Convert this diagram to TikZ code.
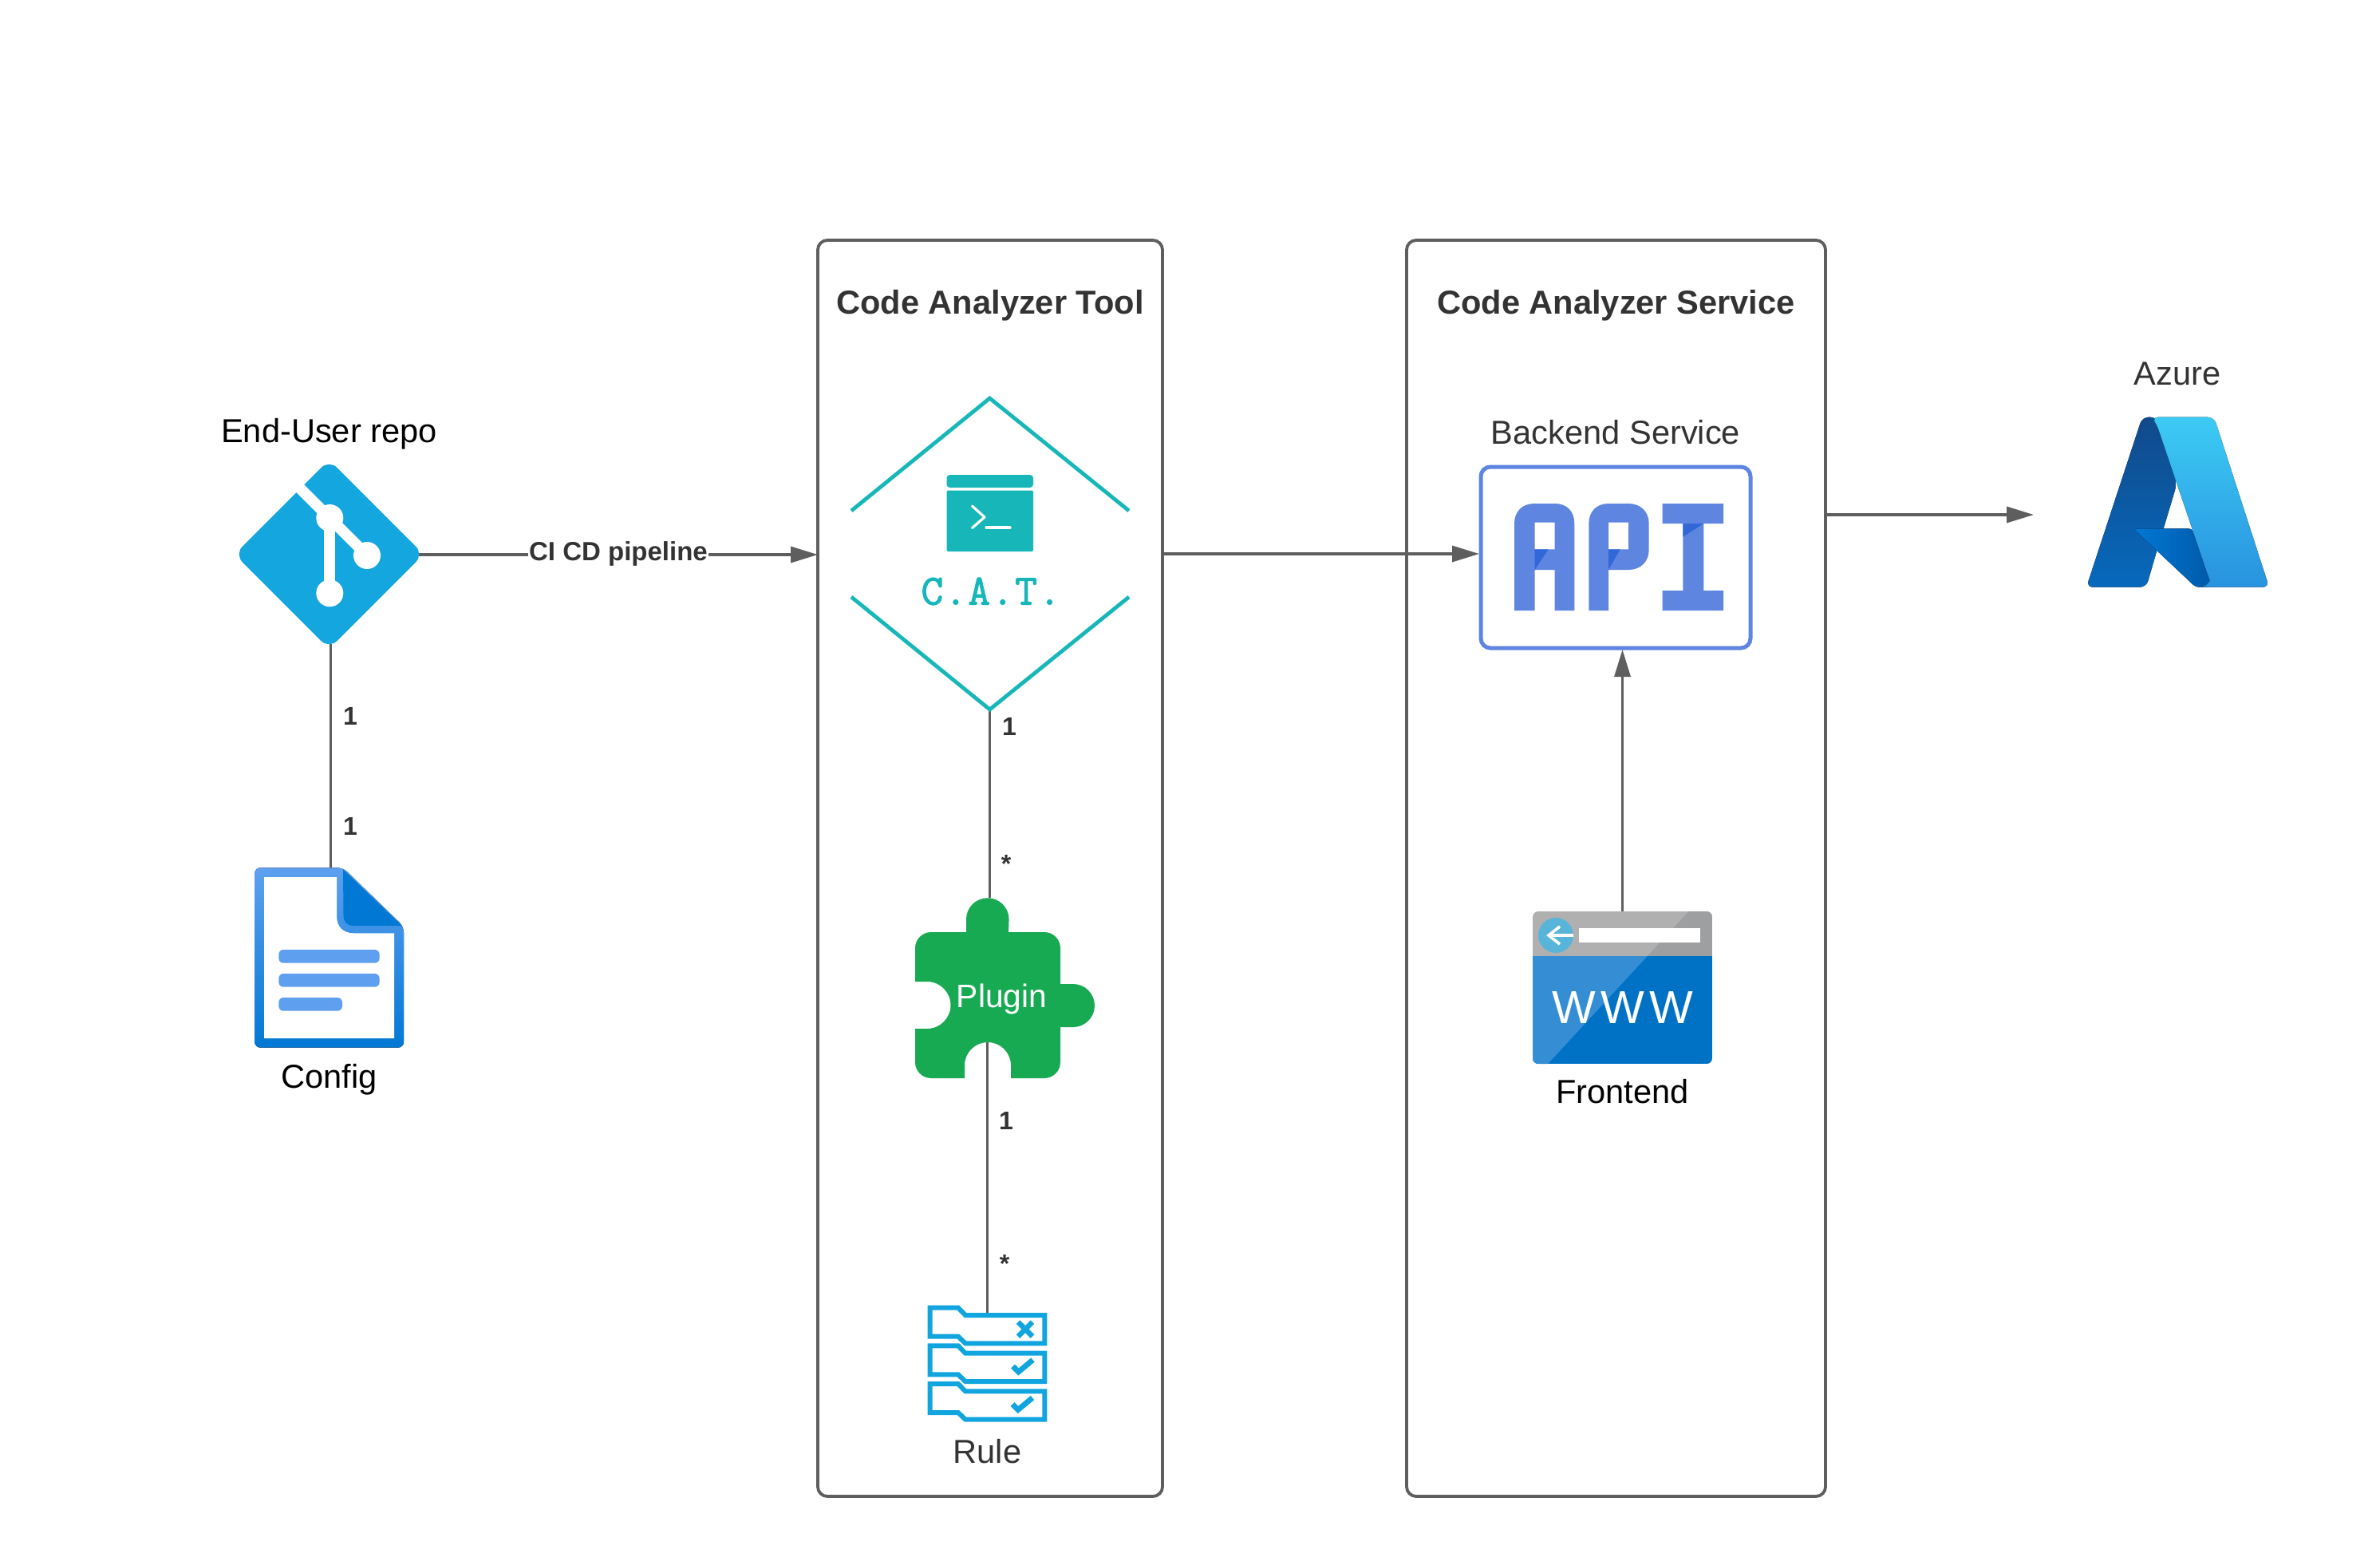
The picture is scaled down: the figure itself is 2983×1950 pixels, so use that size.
\documentclass[tikz,border=0pt]{standalone}
\usepackage{fontspec}
\usepackage{xcolor}
\usetikzlibrary{arrows.meta}
\setmainfont{Liberation Sans}
\newfontfamily\wwwfont[LetterSpace=11]{Liberation Sans}
\newfontfamily\catfont[FakeBold=2,LetterSpace=3]{Latin Modern Mono}
\definecolor{linegray}{RGB}{94,94,94}
\definecolor{inkgray}{RGB}{51,51,51}
\definecolor{gitblue}{RGB}{19,166,223}
\definecolor{catteal}{RGB}{23,183,185}
\definecolor{plugingreen}{RGB}{24,170,83}
\definecolor{ruleblue}{RGB}{17,165,224}
\definecolor{apiblue}{RGB}{94,134,224}
\definecolor{apidark}{RGB}{49,104,216}
\definecolor{docblue}{RGB}{94,160,239}
\definecolor{msblue}{RGB}{0,120,212}
\definecolor{webblue}{RGB}{0,114,198}
\definecolor{weblight}{RGB}{53,142,212}
\definecolor{webgray}{RGB}{176,176,176}
\definecolor{webdark}{RGB}{157,159,161}
\definecolor{webcircle}{RGB}{89,180,217}
\definecolor{azuretop}{RGB}{17,74,139}
\definecolor{azurelow}{RGB}{6,105,188}
\definecolor{azuremid}{RGB}{0,90,170}
\definecolor{azuresky}{RGB}{60,203,244}
\definecolor{azuresea}{RGB}{40,146,223}

\begin{document}
\begin{tikzpicture}[x=0.5pt, y=-0.5pt, node distance=76pt]
    \tikzstyle{panel} = [draw=linegray, line width=1.9pt, rounded corners=6pt, minimum height=787pt, inner sep=0pt, outer sep=0pt]
    \tikzstyle{iconspot} = [inner sep=0pt, outer sep=0pt]
    \tikzstyle{caption} = [font=\fontsize{20.8}{25}\selectfont, text=inkgray, text height=15pt, text depth=4.5pt, inner sep=0pt]
    \tikzstyle{paneltitle} = [caption, font=\fontsize{20.8}{25}\selectfont\bfseries]
    \tikzstyle{count} = [font=\fontsize{16}{19}\selectfont\bfseries, text=inkgray, inner sep=0pt]
    \tikzstyle{flow} = [draw=linegray, line width=1.7pt, -{Triangle[length=17pt, width=10pt]}]
    \tikzstyle{link} = [draw=linegray, line width=1.7pt]
    \tikzstyle{catline} = [draw=catteal, line width=2.4pt]
    \tikzstyle{ruleline} = [draw=ruleblue, line width=3pt]

    \useasboundingbox (0,0) rectangle (2983,1950);

    % Panels
    \node [panel, minimum width=216pt] (toolbox) at (1241,1088) {};
    \node [panel, minimum width=262.5pt] (servicebox) at (2025.5,1088) {};
    \node [paneltitle, above of=toolbox, node distance=352.75pt, text=inkgray] (tooltitle) {Code Analyzer Tool};
    \node [paneltitle, above of=servicebox, node distance=352.75pt, text=inkgray] (servicetitle) {Code Analyzer Service};

    % Icon places
    \node [iconspot, minimum width=110.5pt, minimum height=112pt] (gitrepo) at (414.5,695) {};
    \node [iconspot, minimum width=93.5pt, minimum height=112.7pt] (config) at (414.5,1200) {};
    \node [iconspot, minimum width=174pt, minimum height=195pt] (cat) at (1240.5,694) {};
    \node [iconspot, minimum width=112pt, minimum height=90.5pt] (plugin) at (1240.5,1215.5) {};
    \node [iconspot, minimum width=75pt, minimum height=68.5pt] (rule) at (1237.5,1713.5) {};
    \node [iconspot, minimum width=171pt, minimum height=115.5pt] (api) at (2025,698.5) {};
    \node [iconspot, minimum width=112.5pt, minimum height=95.5pt] (frontend) at (2033.5,1237.5) {};
    \node [iconspot, minimum width=115pt, minimum height=106.5pt] (azure) at (2729,629) {};
    \coordinate (pluginnotch) at (1237.5,1306);
    \coordinate (azureentry) at (2549,645);

    % Connectors
    \draw [flow] (gitrepo.east) -- node [font=\fontsize{16.5}{20}\selectfont\bfseries, text=inkgray, fill=white, inner sep=0.5pt, yshift=0.5pt] (pipeline) {CI CD pipeline} (gitrepo.east -| toolbox.west);
    \draw [link] (gitrepo.south) -- (config.north);
    \draw [link] (cat.south) -- (plugin.north);
    \draw [link] (pluginnotch) -- (rule.north);
    \draw [flow] (toolbox.east |- cat.east) -- (cat.east -| api.west);
    \draw [flow] (frontend.north) -- (frontend.north |- api.south);
    \draw [flow] (azureentry -| servicebox.east) -- (azureentry);

    % Git icon
    \fill [gitblue, rounded corners=7pt] (412.5,576) -- (531,694.5) -- (412.5,813) -- (294,694.5) -- cycle;
    \draw [white, line width=6.9pt] (366,602) -- (413.3,649) -- (460,696);
    \draw [white, line width=7pt] (413.3,649) -- (413.3,743.3);
    \foreach \spotx/\spoty in {413.3/649, 460/696, 413.3/743.3}
        \fill [white] (\spotx,\spoty) circle [radius=8.5pt];

    % Config icon
    \fill [top color=docblue, bottom color=msblue, rounded corners=3.5pt] (319.3,1087.3) -- (430,1087.3) -- (506,1161) -- (506,1312.7) -- (319.3,1312.7) -- cycle;
    \fill [white] (331,1099) -- (422,1099) -- (422,1148) .. controls (422,1161) and (430,1169.3) .. (443,1169.3) -- (494,1169.3) -- (494,1301) -- (331,1301) -- cycle;
    \fill [msblue] (430,1089.3) -- (503.5,1160) -- (443,1160) .. controls (435,1160) and (430.5,1155) .. (430.5,1147) -- cycle;
    \fill [docblue, rounded corners=3pt] (349.3,1190) rectangle (475.7,1206.7);
    \fill [docblue, rounded corners=3pt] (349.3,1220) rectangle (475.7,1236.7);
    \fill [docblue, rounded corners=3pt] (349.3,1250) rectangle (429,1266.7);

    % CAT icon
    \draw [catline] (1067,640) -- (cat.north) -- (1415,640);
    \draw [catline] (1067,748) -- (cat.south) -- (1415,748);
    \fill [catteal, rounded corners=2pt] (1186.5,595) -- (1295,595) -- (1295,611) -- (1186.5,611) -- cycle;
    \fill [catteal, rounded corners=1pt] (1186.5,614.5) rectangle (1295,691);
    \draw [white, line width=1.6pt, line cap=round, line join=round] (1218.5,634) -- (1234,648) -- (1218.5,661.5);
    \draw [white, line width=1.6pt, line cap=round] (1236,661) -- (1266,661);
    \node [iconspot, font=\catfont\fontsize{27}{30}\selectfont, text=catteal] (catlabel) at (1242,741) {C.A.T.};

    % Plugin icon
    \fill [plugingreen] (1167,1168) -- (1211,1168) -- (1211,1152) arc [start angle=180, end angle=0, radius=13.4pt] -- (1264,1168) -- (1309,1168) arc [start angle=90, end angle=0, radius=10pt] -- (1329,1233) -- (1345,1233) arc [start angle=90, end angle=-90, radius=13.5pt] -- (1329,1287) -- (1329,1331) arc [start angle=0, end angle=-90, radius=10pt] -- (1267,1351) -- (1267,1335) arc [start angle=0, end angle=180, radius=14.5pt] -- (1209,1351) -- (1167,1351) arc [start angle=270, end angle=180, radius=10pt] -- (1147,1289) -- (1162,1289) arc [start angle=-90, end angle=90, radius=14.75pt] -- (1147,1230) -- (1147,1188) arc [start angle=180, end angle=90, radius=10pt] -- cycle;
    \node [iconspot, font=\fontsize{20.4}{24}\selectfont, text=white] (pluginlabel) at (1255.5,1252) {Plugin};

    % Rule icon
    \foreach \bandy in {0,47.7,95.4}
        \draw [ruleline, shift={(0,\bandy)}] (1165.7,1638.7) -- (1201,1638.7) -- (1210,1648) -- (1309.3,1648) -- (1309.3,1683.3) -- (1210,1683.3) -- (1201,1674.7) -- (1165.7,1674.7) -- cycle;
    \draw [draw=ruleblue, line width=3.2pt] (1276,1656.5) -- (1294,1674.5) (1294,1656.5) -- (1276,1674.5);
    \draw [draw=ruleblue, line width=3.4pt] (1269.5,1712) -- (1276.5,1719) -- (1294.5,1704);
    \draw [draw=ruleblue, line width=3.4pt] (1269,1759.5) -- (1276,1766.5) -- (1294,1751.5);

    % API icon
    \draw [draw=apiblue, line width=2.5pt, rounded corners=6pt] (1856,585) rectangle (2194,812);
    \fill [apiblue, even odd rule] (1898,765) -- (1898,656) .. controls (1898,641) and (1908,631) .. (1923,631) -- (1949,631) .. controls (1964,631) and (1973.3,641) .. (1973.3,656) -- (1973.3,765) -- (1948.7,765) -- (1948.7,714) -- (1923.7,714) -- (1923.7,765) -- cycle (1923.7,654.7) rectangle (1948.7,688.3);
    \fill [apiblue, even odd rule] (1991.3,765) -- (1991.3,656) .. controls (1991.3,641) and (2001,631) .. (2016,631) -- (2041,631) .. controls (2056,631) and (2066.7,641) .. (2066.7,656) -- (2066.7,689) .. controls (2066.7,704) and (2056,714) .. (2041,714) -- (2016,714) -- (2016,765) -- cycle (2016,654.7) rectangle (2041,688.3);
    \fill [apiblue] (2083.7,631) -- (2160,631) -- (2160,656) -- (2135.3,656) -- (2135.3,740) -- (2160,740) -- (2160,765) -- (2083.7,765) -- (2083.7,740) -- (2109.3,740) -- (2109.3,656) -- (2083.7,656) -- cycle;
    \fill [apidark] (1923.7,688.3) -- (1940.7,688.3) -- (1923.7,714) -- cycle;
    \fill [apidark] (2016,688.3) -- (2030.7,688.3) -- (2016,714) -- cycle;
    \fill [apidark] (2109.3,656) -- (2135.3,656) -- (2109.3,672.7) -- cycle;

    % Frontend icon
    \begin{scope}
        \clip [rounded corners=3.5pt] (1921,1142) rectangle (2146,1333);
        \fill [webgray] (1921,1142) rectangle (2146,1198);
        \fill [webdark] (2116.7,1142) -- (2146,1142) -- (2146,1198) -- (2064.8,1198) -- cycle;
        \fill [webblue] (1921,1198) rectangle (2146,1333);
        \fill [weblight] (1921,1198) -- (2064.8,1198) -- (1940,1333) -- (1921,1333) -- cycle;
    \end{scope}
    \fill [webcircle] (1950,1172) circle [radius=11pt];
    \fill [white] (1979,1163) rectangle (2131,1181);
    \draw [white, line width=1.8pt] (1972,1172) -- (1941,1172);
    \draw [white, line width=1.8pt] (1955,1161) -- (1941,1172) -- (1955,1183);
    \node [iconspot, font=\wwwfont\fontsize{29}{32}\selectfont, text=white] (webtext) at (2034,1263) {WWW};

    % Azure icon
    \fill [top color=azuretop, bottom color=azurelow, rounded corners=4pt] (2685,522.7) -- (2703,522.7) -- (2728.3,606.7) -- (2703.3,690) -- (2690,735.7) -- (2615,735.7) -- cycle;
    \fill [left color=msblue, right color=azuremid, rounded corners=2pt] (2674,662.3) -- (2747.3,662.3) -- (2770,723.3) -- (2770,735.7) -- (2752,735.7) -- (2703.3,690) -- cycle;
    \fill [top color=azuresky, bottom color=azuresea, rounded corners=4pt] (2696.7,522.7) -- (2775,522.7) -- (2844,735.7) -- (2756,735.7) .. controls (2766,733) and (2770,728) .. (2767,720) -- (2703,531) -- cycle;

    % Labels
    \node [caption, above of=gitrepo, node distance=75.75pt, xshift=-1pt, text=black] (repolabel) {End-User repo};
    \node [caption, below of=config, node distance=76.5pt, xshift=-1pt, text=black] (configlabel) {Config};
    \node [caption, below of=rule, node distance=54.75pt] (rulelabel) {Rule};
    \node [caption, above of=api, node distance=76.25pt] (backendlabel) {Backend Service};
    \node [caption, below of=frontend, node distance=67pt, text=black] (frontendlabel) {Frontend};
    \node [caption, above of=azure, node distance=78.5pt] (azurelabel) {Azure};
    \node [count] (repoone) at (439,897) {1};
    \node [count] (configone) at (439,1035) {1};
    \node [count] (catone) at (1265,910) {1};
    \node [count] (pluginmany) at (1261,1082) {*};
    \node [count] (pluginone) at (1261,1404) {1};
    \node [count] (rulemany) at (1259,1583) {*};
\end{tikzpicture}
\end{document}
